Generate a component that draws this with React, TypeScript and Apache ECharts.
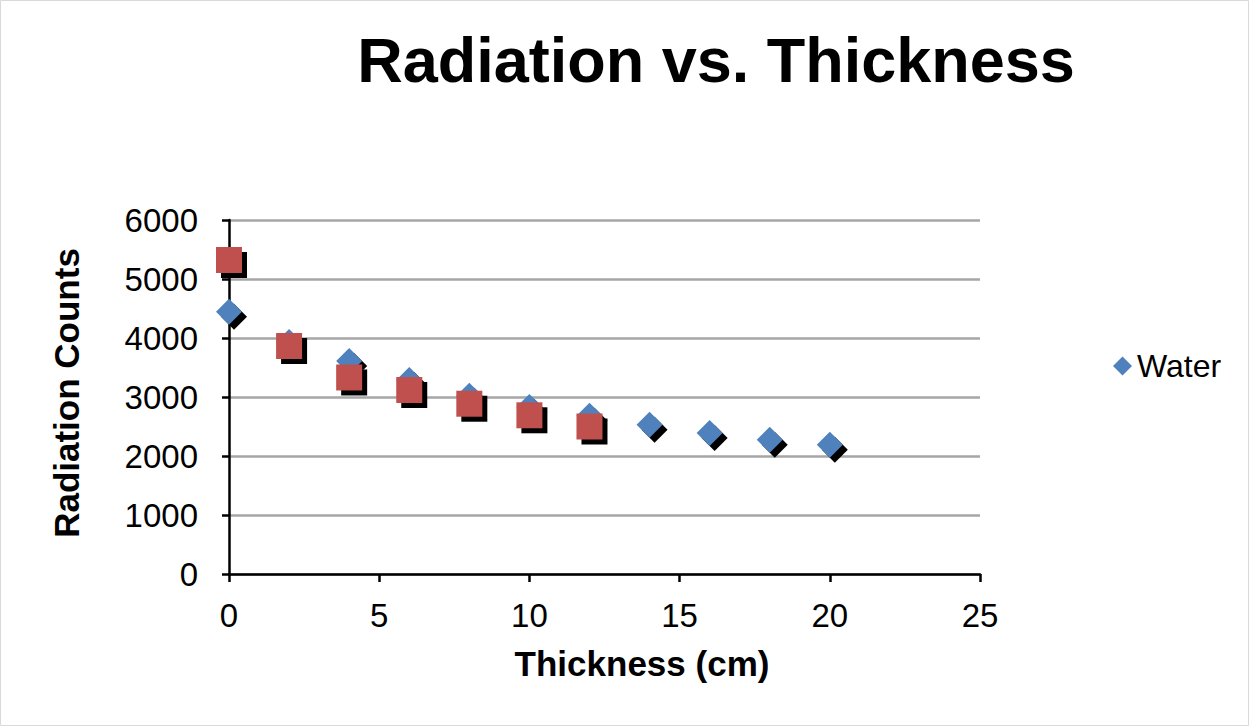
import React, { useEffect, useRef } from "react";
import * as echarts from "echarts";

const thickness = [0, 2, 4, 6, 8, 10, 12, 14, 16, 18, 20];
const waterCounts = [4446, 3932, 3610, 3288, 3022, 2830, 2683, 2531, 2390, 2276, 2192];
const thickness2 = [0, 2, 4, 6, 8, 10, 12];
const series2Counts = [5322, 3864, 3331, 3119, 2886, 2690, 2500];

const FONT = "'Liberation Sans', Arial, sans-serif";
const BLUE = "#4F81BD";
const RED = "#C0504D";

export default function App() {
  const ref = useRef<HTMLDivElement>(null);
  useEffect(() => {
    if (!ref.current) return;
    const chart = echarts.init(ref.current, undefined, { renderer: "svg" });
    const water = thickness.map((x, i) => [x, waterCounts[i]]);
    const s2 = thickness2.map((x, i) => [x, series2Counts[i]]);
    chart.setOption({
      animation: false,
      backgroundColor: "#ffffff",
      title: {
        text: "Radiation vs. Thickness",
        left: 711,
        top: 23,
        textAlign: "center",
        textStyle: { fontFamily: FONT, fontSize: 63, fontWeight: "bold", color: "#000" },
      },
      legend: {
        data: [{ name: "Water", icon: "diamond" }],
        left: 1108,
        top: 345,
        itemWidth: 19,
        itemHeight: 19,
        textStyle: { fontFamily: FONT, fontSize: 32, color: "#000" },
      },
      grid: { left: 229, right: 269, top: 220, bottom: 152, containLabel: false },
      xAxis: {
        type: "value",
        min: 0,
        max: 25,
        interval: 5,
        axisLine: { show: true, onZero: false, lineStyle: { color: "#000", width: 2.5 } },
        axisTick: { show: true, length: 8, lineStyle: { color: "#000", width: 2.5 } },
        axisLabel: { margin: 25, fontFamily: FONT, fontSize: 33, color: "#000" },
        splitLine: { show: false },
      },
      yAxis: {
        type: "value",
        min: 0,
        max: 6000,
        interval: 1000,
        axisLine: { show: true, onZero: false, lineStyle: { color: "#000", width: 2.5 } },
        axisTick: { show: true, length: 7, lineStyle: { color: "#000", width: 2.5 } },
        axisLabel: {
          margin: 31,
          fontFamily: FONT,
          fontSize: 33,
          color: "#000",
          formatter: (v: number) => String(v),
        },
        splitLine: { show: true, lineStyle: { color: "#A6A6A6", width: 2.5 } },
      },
      graphic: [
        {
          type: "rect",
          shape: { x: 0.5, y: 0.5, width: 1248, height: 725 },
          style: { fill: "none", stroke: "#D9D9D9", lineWidth: 1 },
          silent: true,
        },
        {
          type: "text",
          x: 642,
          y: 663,
          style: {
            text: "Thickness (cm)",
            fontFamily: FONT,
            fontSize: 35,
            fontWeight: "bold",
            fill: "#000",
            align: "center",
            verticalAlign: "middle",
          },
        },
        {
          type: "text",
          x: 66,
          y: 393,
          rotation: Math.PI / 2,
          style: {
            text: "Radiation Counts",
            fontFamily: FONT,
            fontSize: 35,
            fontWeight: "bold",
            fill: "#000",
            align: "center",
            verticalAlign: "middle",
          },
        },
      ],
      series: [
        {
          name: "Water shadow",
          type: "scatter",
          data: water,
          symbol: "diamond",
          symbolSize: 26,
          symbolOffset: [5, 5],
          itemStyle: { color: "#000", opacity: 1 },
          silent: true,
          z: 2,
        },
        {
          name: "Water",
          type: "scatter",
          data: water,
          symbol: "diamond",
          symbolSize: 26,
          itemStyle: { color: BLUE, opacity: 1 },
          z: 3,
        },
        {
          name: "Series 2 shadow",
          type: "scatter",
          data: s2,
          symbol: "rect",
          symbolSize: 26,
          symbolOffset: [5, 5],
          itemStyle: { color: "#000", opacity: 1 },
          silent: true,
          z: 4,
        },
        {
          name: "Series 2",
          type: "scatter",
          data: s2,
          symbol: "rect",
          symbolSize: 26,
          itemStyle: { color: RED, opacity: 1 },
          z: 5,
        },
      ],
    });
    return () => chart.dispose();
  }, []);
  return (
    <div
      ref={ref}
      style={{ position: "fixed", left: 0, top: 0, width: 1249, height: 726 }}
    />
  );
}
